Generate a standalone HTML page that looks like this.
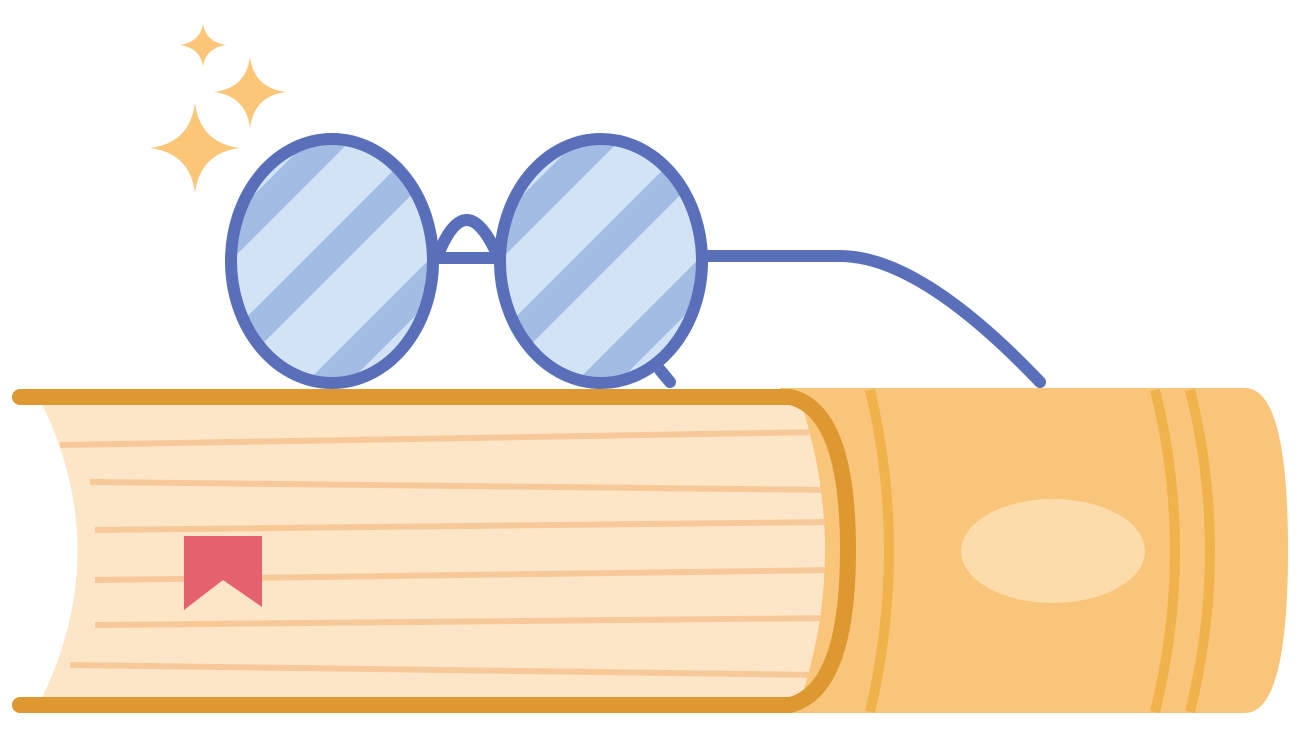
<!DOCTYPE html>
<html><head><meta charset="utf-8"><style>
html,body{margin:0;padding:0;background:#fff;}
svg{display:block}
</style></head><body>
<svg width="1300" height="738" viewBox="0 0 1300 738" xmlns="http://www.w3.org/2000/svg">
<defs>
<clipPath id="lc"><ellipse cx="332" cy="261" rx="99" ry="120"/></clipPath>
<clipPath id="rc"><ellipse cx="601" cy="261" rx="99" ry="120"/></clipPath>
<clipPath id="pg"><path d="M40 400 L800 400 Q850 550 800 702 L40 702 Q115 550 40 400 Z"/></clipPath>
</defs>
<!-- spine -->
<path d="M780 388 L1245 388 Q1288 388 1288 550 Q1288 713 1245 713 L780 713 Z" fill="#f9c57b"/>
<path d="M870 390 Q908 550 870 712" stroke="#f0b24a" stroke-width="10" fill="none"/>
<path d="M1155 390 Q1195 550 1155 712" stroke="#f0b24a" stroke-width="10" fill="none"/>
<path d="M1190 390 Q1230 550 1190 712" stroke="#f0b24a" stroke-width="10" fill="none"/>
<ellipse cx="1053" cy="551" rx="92" ry="52" fill="#fcdcab"/>
<!-- pages -->
<path d="M40 400 L800 400 Q850 550 800 702 L40 702 Q115 550 40 400 Z" fill="#fde5c8"/>
<g clip-path="url(#pg)" stroke="#f8c998" stroke-width="6" fill="none">
<path d="M60 445 L820 432"/>
<path d="M90 482 L830 490"/>
<path d="M95 530 L835 522"/>
<path d="M95 580 L835 570"/>
<path d="M95 625 L835 618"/>
<path d="M70 665 L820 675"/>
</g>
<!-- glasses -->
<g clip-path="url(#lc)">
<rect x="225" y="130" width="215" height="260" fill="#d3e3f6"/>
<g stroke="#a1bde3" stroke-width="30">
<path d="M200 270 L350 120"/><path d="M240 345 L440 145"/><path d="M295 415 L470 240"/>
</g></g>
<g clip-path="url(#rc)">
<rect x="495" y="130" width="215" height="260" fill="#d3e3f6"/>
<g stroke="#a1bde3" stroke-width="30">
<path d="M469 270 L619 120"/><path d="M509 345 L709 145"/><path d="M564 415 L739 240"/>
</g></g>
<g stroke="#5a6fb9" stroke-width="12" fill="none" stroke-linecap="round">
<ellipse cx="332" cy="261" rx="101" ry="122"/>
<ellipse cx="601" cy="261" rx="101" ry="122"/>
<path d="M440 250 Q466 190 495 250"/>
<path d="M437 258 L497 258"/>
<path d="M703 256 L840 256 Q920 256 1040 382"/>
<path d="M660 370 L670 382"/>
</g>
<!-- cover edges -->
<path d="M20 397 L790 397 Q848 410 848 550 Q848 690 790 705 L20 705" stroke="#dd9832" stroke-width="16" fill="none" stroke-linecap="round"/>
<!-- bookmark -->
<path d="M184 536 L262 536 L262 607 L223 580 L184 610 Z" fill="#e5616e"/>
<!-- sparkles -->
<g fill="#fbc677">
<path d="M195 103 Q200 143 240 148 Q200 153 195 193 Q190 153 150 148 Q190 143 195 103 Z"/>
<path d="M250 57 Q254 88 286 92 Q254 96 250 128 Q246 96 214 92 Q246 88 250 57 Z"/>
<path d="M203 24 Q206 42 226 45 Q206 48 203 66 Q200 48 180 45 Q200 42 203 24 Z"/>
</g>
</svg>
</body></html>
